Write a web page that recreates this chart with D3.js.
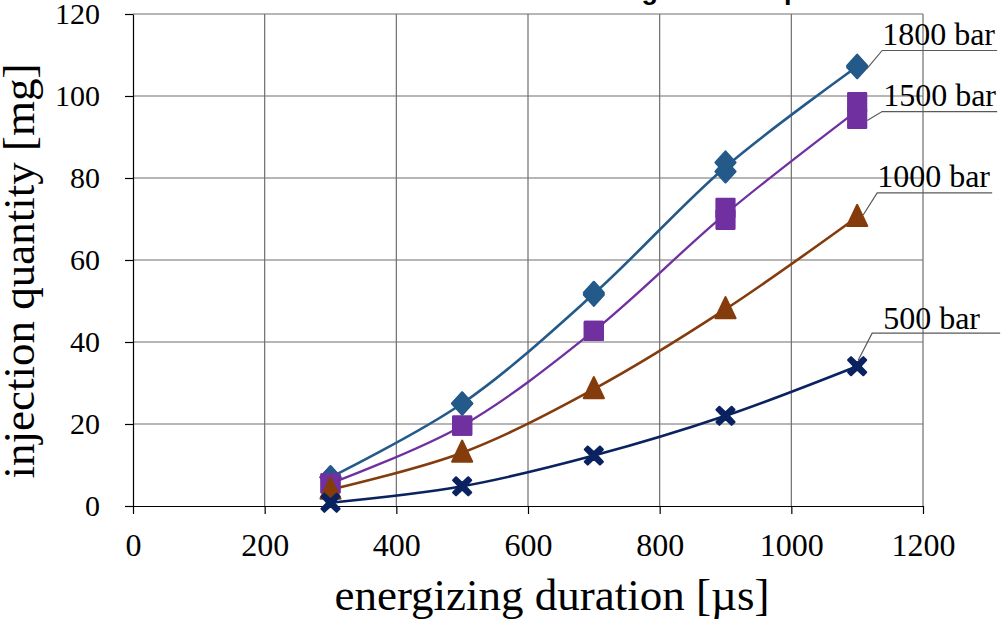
<!DOCTYPE html>
<html><head><meta charset="utf-8">
<script src="https://cdn.jsdelivr.net/npm/d3@7"></script>
<style>html,body{margin:0;padding:0;background:#fff;overflow:hidden}</style>
</head><body><svg id="chart" width="1004" height="621"></svg>
<script>
// ---- data ----
const durations = [300, 500, 700, 900, 1100];
const seriesNames = ["1800 bar", "1500 bar", "1000 bar", "500 bar"];
const q1800runA = [7.0, 25.0, 51.5, 81.6, 107.0];
const q1800runB = [7.0, 25.0, 52.0, 83.8, 107.4];
const q1500runA = [5.5, 19.6, 42.7, 69.8, 94.4];
const q1500runB = [5.5, 19.6, 42.7, 72.7, 98.5];
const q1000run  = [4.0, 13.0, 28.5, 48.0, 70.5];
const q500run   = [0.8, 4.8, 12.3, 22.0, 34.1];
const xTickValues = [0, 200, 400, 600, 800, 1000, 1200];
const yTickValues = [0, 20, 40, 60, 80, 100, 120];
const xTitle = "energizing duration [µs]";
const yTitle = "injection quantity [mg]";
const chartTitle = "Effect of driving time and pressure";

// ---- layout / style ----
const W = 1004, H = 621;
const L = 133, R = 923, T = 14, B = 506;
const serif = "'Liberation Serif','Times New Roman',serif";
const styles = [
  {color: "#245A8A", shape: "diamond", width: 2.6, ann: {a:[10,2], b:[25,-16], len:115, t:[25,-21]}},
  {color: "#7030A0", shape: "square",  width: 2.3, ann: {a:[10,10], b:[25,1], len:115, t:[26,-5]}},
  {color: "#843C0C", shape: "triangle",width: 2.6, ann: {a:[6,-2], b:[20,-24], len:115, t:[20,-30]}},
  {color: "#0B2261", shape: "cross",   width: 2.6, ann: {a:[1,-6], b:[15,-33], len:128, t:[26,-37]}}
];
const mean = (a, b) => a.map((v, i) => (v + b[i]) / 2);
const series = [
  {name: seriesNames[0], curve: mean(q1800runA, q1800runB), runs: [q1800runA, q1800runB]},
  {name: seriesNames[1], curve: mean(q1500runA, q1500runB), runs: [q1500runA, q1500runB]},
  {name: seriesNames[2], curve: q1000run, runs: [q1000run]},
  {name: seriesNames[3], curve: q500run, runs: [q500run]}
];

const svg = d3.select("#chart");
const x = d3.scaleLinear().domain([0, 1200]).range([L, R]);
const y = d3.scaleLinear().domain([0, 120]).range([B, T]);

// title (mostly above the visible area)
svg.append("text").attr("x", 898).attr("y", -1).attr("text-anchor", "end")
  .attr("font-family", "'Liberation Sans',Arial,sans-serif").attr("font-weight", "bold")
  .attr("font-size", 27).attr("fill", "#000").text(chartTitle);

// grid
const grid = svg.append("g");
grid.selectAll("line.v").data(xTickValues.filter(d => d > 0)).join("line")
  .attr("x1", d => x(d)).attr("x2", d => x(d)).attr("y1", T).attr("y2", B)
  .attr("stroke", "#6e6e6e").attr("stroke-width", 1.2);
grid.selectAll("line.h").data(yTickValues.filter(d => d > 0)).join("line")
  .attr("x1", L).attr("x2", R).attr("y1", d => y(d)).attr("y2", d => y(d))
  .attr("stroke", "#6e6e6e").attr("stroke-width", 1.2);

// axes
const xAxis = svg.append("g").attr("transform", `translate(0,${B})`)
  .call(d3.axisBottom(x).tickValues(xTickValues).tickSize(8).tickSizeOuter(0).tickFormat(d3.format("d")));
xAxis.selectAll("text").attr("y", 50).attr("dy", 0)
  .attr("font-family", serif).attr("font-size", 32).attr("fill", "#000");
const yAxis = svg.append("g").attr("transform", `translate(${L},0)`)
  .call(d3.axisLeft(y).tickValues(yTickValues).tickSize(8).tickSizeOuter(0).tickPadding(25).tickFormat(d3.format("d")));
yAxis.selectAll("text").attr("font-family", serif).attr("font-size", 30).attr("fill", "#000");
svg.selectAll(".domain, .tick line").attr("stroke", "#000").attr("stroke-width", 1.2);

// axis titles
svg.append("text").attr("x", 552).attr("y", 610).attr("text-anchor", "middle")
  .attr("font-family", serif).attr("font-size", 45).attr("fill", "#000").text(xTitle);
svg.append("text").attr("transform", "translate(34,271) rotate(-90)").attr("text-anchor", "middle")
  .attr("font-family", serif).attr("font-size", 45).attr("fill", "#000").text(yTitle);

// curves
const line = d3.line().x((d, i) => x(durations[i])).y(d => y(d)).curve(d3.curveCatmullRom.alpha(0.5));
series.forEach((s, k) => {
  svg.append("path").attr("d", line(s.curve)).attr("fill", "none")
    .attr("stroke", styles[k].color).attr("stroke-width", styles[k].width);
});

// markers
function markerPath(shape) {
  if (shape === "diamond") return "M0,-11L10,0L0,11L-10,0Z";
  if (shape === "square") return "M-9,-9H9V9H-9Z";
  if (shape === "triangle") return "M0,-12L10,9H-10Z";
  const a = 3.2, b = 9; // cross (X)
  return d3.path ? `M${-b},${-b+a*0.9}L${-b+a*0.9},${-b}L0,${-a}L${b-a*0.9},${-b}L${b},${-b+a*0.9}L${a},0L${b},${b-a*0.9}L${b-a*0.9},${b}L0,${a}L${-b+a*0.9},${b}L${-b},${b-a*0.9}L${-a},0Z` : "";
}
series.forEach((s, k) => {
  s.runs.forEach(run => {
    svg.append("g").selectAll("path").data(run).join("path")
      .attr("transform", (d, i) => `translate(${x(durations[i])},${y(d)})`)
      .attr("d", markerPath(styles[k].shape))
      .attr("fill", styles[k].color).attr("stroke", styles[k].color)
      .attr("stroke-width", 2.2).attr("stroke-linejoin", "round");
  });
});

// series labels with leader lines
series.forEach((s, k) => {
  const n = durations.length - 1;
  const px = x(durations[n]), py = y(s.curve[n]);
  const an = styles[k].ann;
  svg.append("path")
    .attr("d", `M${px+an.a[0]},${py+an.a[1]}L${px+an.b[0]},${py+an.b[1]}H${px+an.b[0]+an.len}`)
    .attr("fill", "none").attr("stroke", "#595959").attr("stroke-width", 1.2);
  svg.append("text").attr("x", px + an.t[0]).attr("y", py + an.t[1])
    .attr("font-family", serif).attr("font-size", 32).attr("fill", "#000").text(s.name);
});
</script></body></html>
